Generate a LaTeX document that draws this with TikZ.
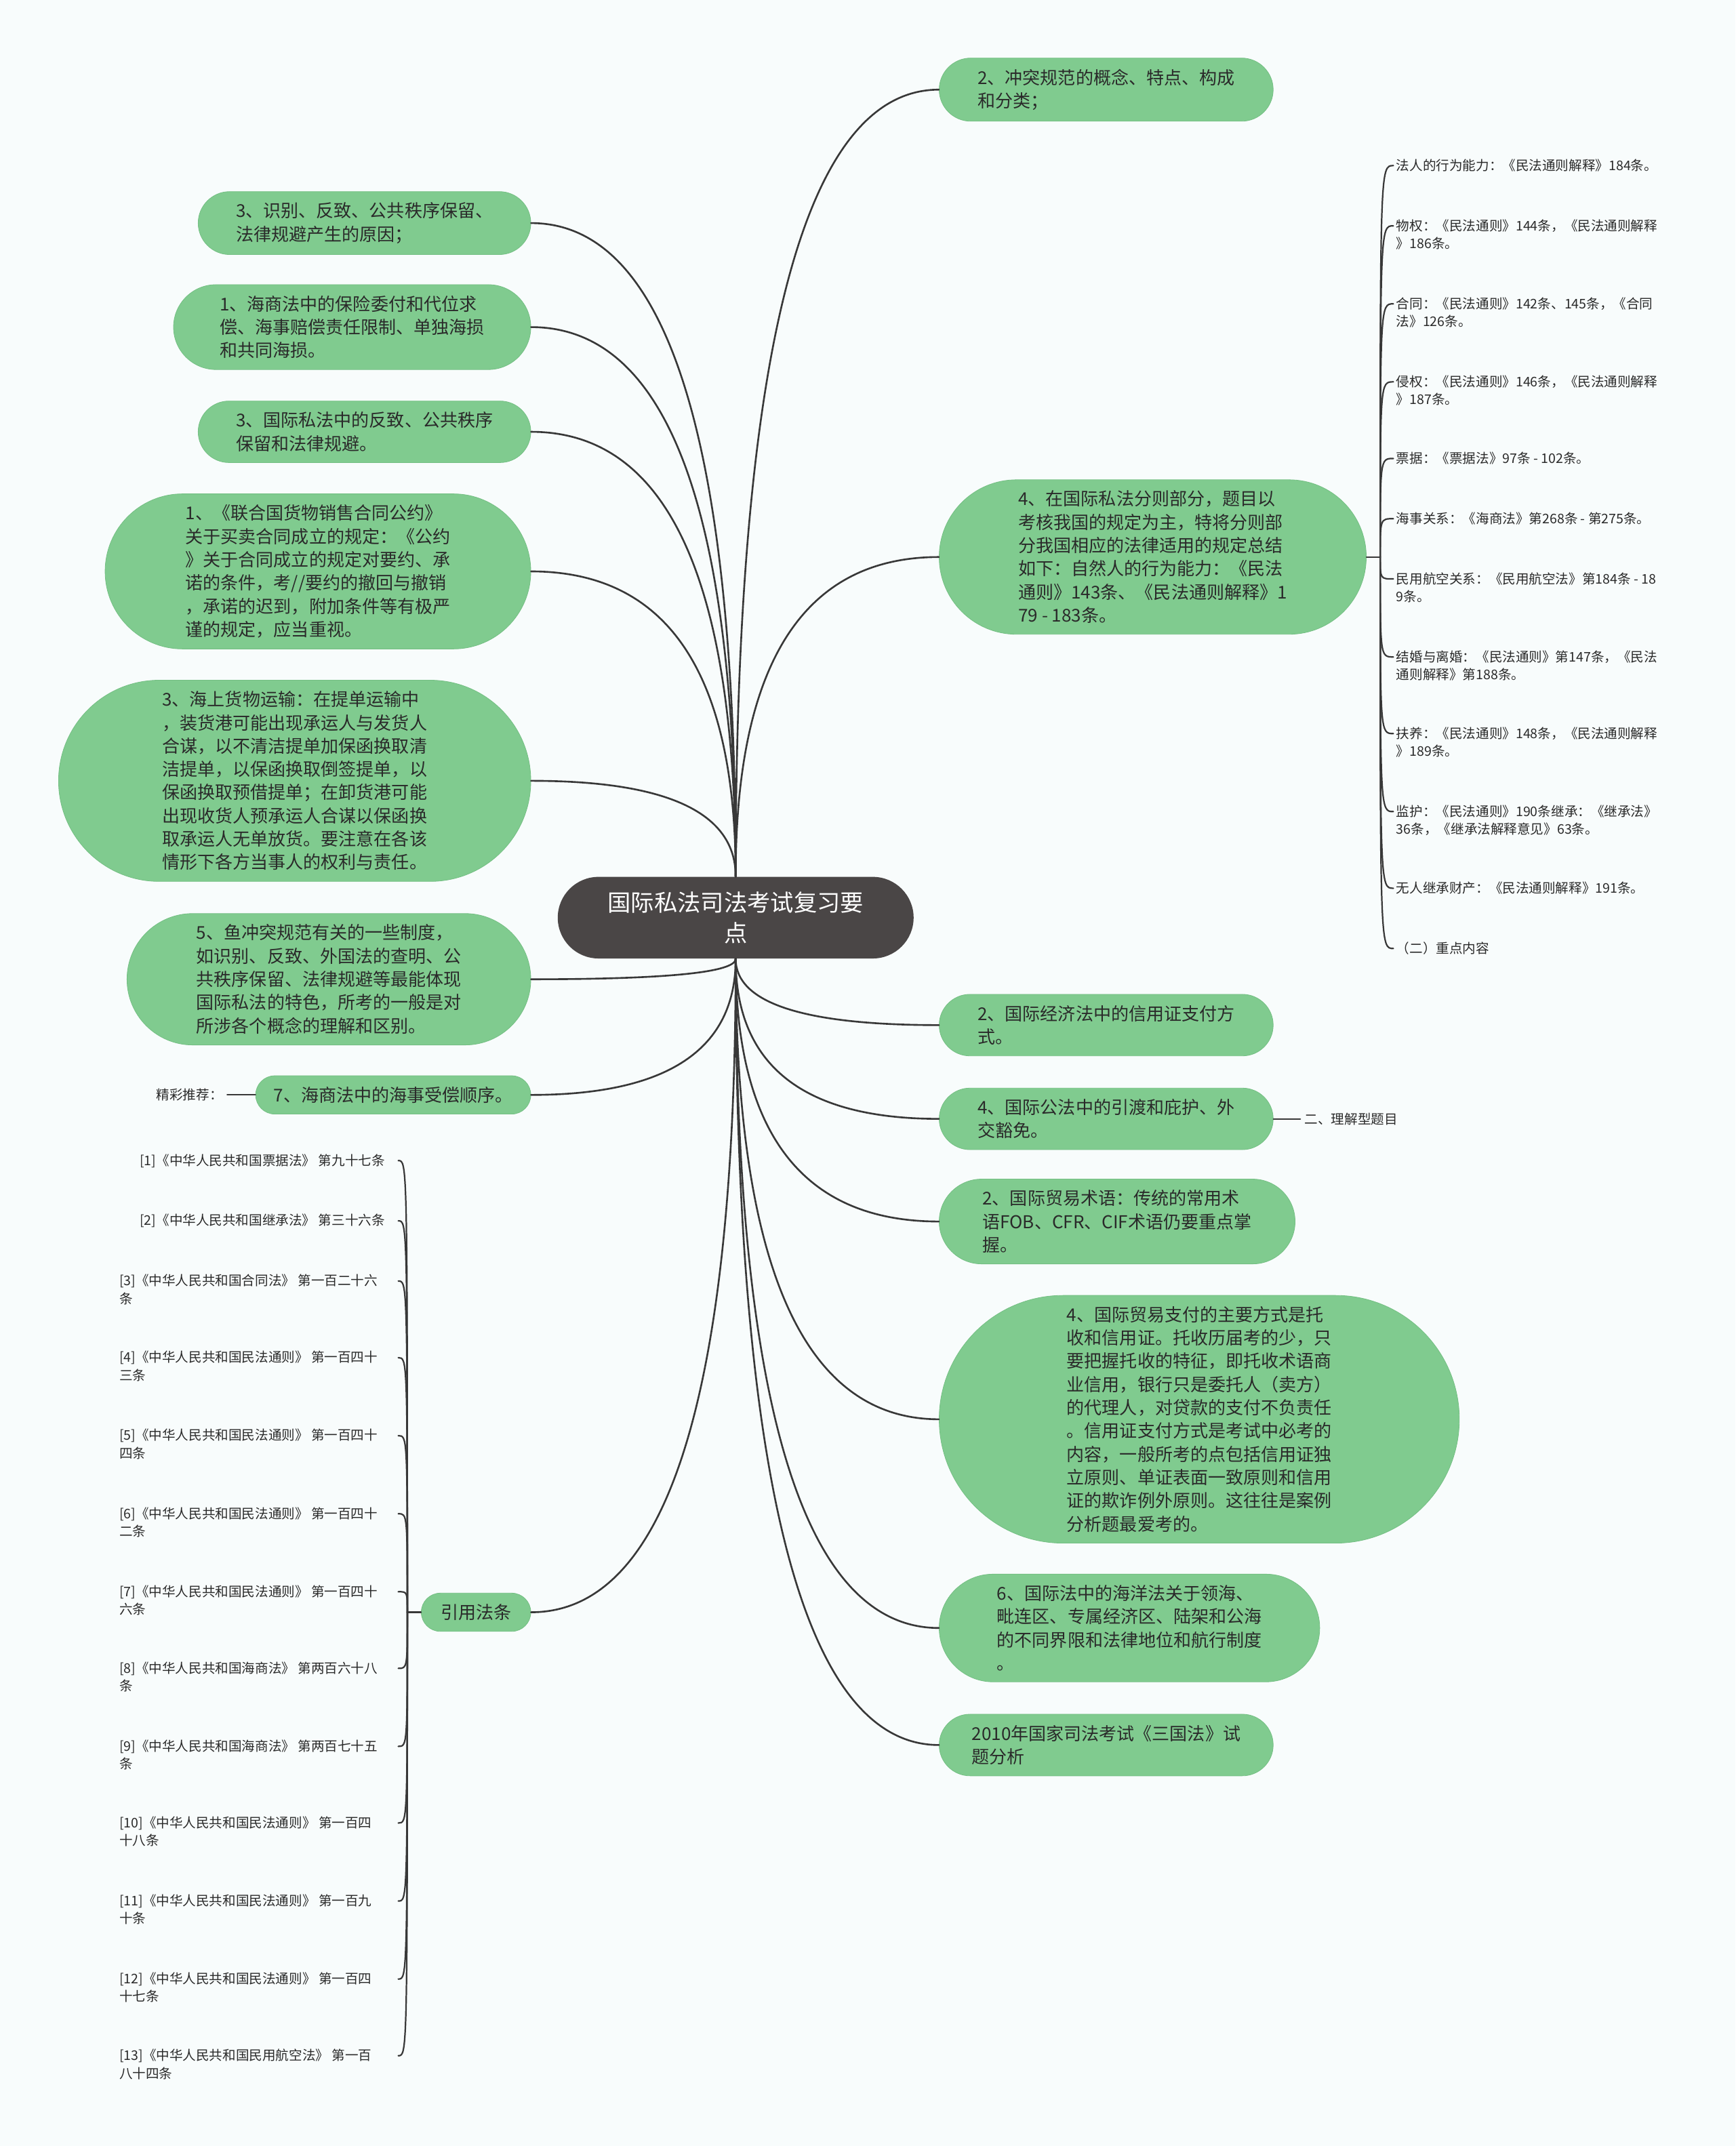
\documentclass[tikz,border=0pt]{standalone}
\usepackage{fontspec}
\setmainfont{Noto Sans CJK SC}
\usetikzlibrary{shapes.misc,calc}
\definecolor{Bfill}{HTML}{F8FCFC}
\definecolor{Gfill}{HTML}{80CB8F}
\definecolor{Gline}{HTML}{74BF83}
\definecolor{Cfill}{HTML}{4A4646}
\definecolor{Link}{HTML}{383838}
\definecolor{Ink}{HTML}{2A2A2A}

\begin{document}
\begin{tikzpicture}[x=1pt,y=-1pt,line join=round,line cap=round,
  topic/.style={rounded rectangle,fill=Gfill,draw=Gline,line width=0.4pt,
    inner xsep=1pt,inner ysep=8pt,align=left,text=Ink,minimum width=#1,
    font=\fontsize{12.9}{17}\selectfont},
  corebox/.style={rounded rectangle,fill=Cfill,inner xsep=5pt,inner ysep=11pt,
    minimum width=270pt,align=center,text=white,font=\fontsize{17}{22}\selectfont},
  leaf/.style={inner sep=0pt,align=left,text=Ink,font=\fontsize{9.7}{13}\selectfont},
  link/.style={Link,line width=1.3pt},
  twig/.style={Link,line width=1.1pt}]
\useasboundingbox (0,0) rectangle (1268,1568);
\fill[Bfill] (0,0) rectangle (1268,1568);

% ---- centre ----
\node[corebox] (core) at (537.5,670.5) {国际私法司法考试复习要\\点};

% ---- right side ----
\node[topic=246pt,anchor=west] (r1) at (686,65.5) {2、冲突规范的概念、特点、构成\\和分类；};
\node[topic=314pt,anchor=west] (r2) at (686,407) {4、在国际私法分则部分，题目以\\考核我国的规定为主，特将分则部\\分我国相应的法律适用的规定总结\\如下：自然人的行为能力：《民法\\通则》143条、《民法通则解释》1\\79 - 183条。};
\node[topic=246pt,anchor=west] (r3) at (686,749) {2、国际经济法中的信用证支付方\\式。};
\node[topic=246pt,anchor=west] (r4) at (686,817.5) {4、国际公法中的引渡和庇护、外\\交豁免。};
\node[topic=262pt,anchor=west] (r5) at (686,892.5) {2、国际贸易术语：传统的常用术\\语FOB、CFR、CIF术语仍要重点掌\\握。};
\node[topic=382pt,anchor=west] (r6) at (686,1037) {4、国际贸易支付的主要方式是托\\收和信用证。托收历届考的少，只\\要把握托收的特征，即托收术语商\\业信用，银行只是委托人（卖方）\\的代理人，对贷款的支付不负责任\\。信用证支付方式是考试中必考的\\内容，一般所考的点包括信用证独\\立原则、单证表面一致原则和信用\\证的欺诈例外原则。这往往是案例\\分析题最爱考的。};
\node[topic=280pt,anchor=west] (r7) at (686,1189.5) {6、国际法中的海洋法关于领海、\\毗连区、专属经济区、陆架和公海\\的不同界限和法律地位和航行制度\\。};
\node[topic=246pt,anchor=west] (r8) at (686,1275) {2010年国家司法考试《三国法》试\\题分析};

% ---- left side ----
\node[topic=245pt,anchor=east] (l1) at (388,163) {3、识别、反致、公共秩序保留、\\法律规避产生的原因；};
\node[topic=263pt,anchor=east] (l2) at (388,239) {1、海商法中的保险委付和代位求\\偿、海事赔偿责任限制、单独海损\\和共同海损。};
\node[topic=245pt,anchor=east] (l3) at (388,315.5) {3、国际私法中的反致、公共秩序\\保留和法律规避。};
\node[topic=313pt,anchor=east] (l4) at (388,417.5) {1、《联合国货物销售合同公约》\\关于买卖合同成立的规定：《公约\\》关于合同成立的规定对要约、承\\诺的条件，考//要约的撤回与撤销\\，承诺的迟到，附加条件等有极严\\谨的规定，应当重视。};
\node[topic=347pt,anchor=east] (l5) at (388,570.5) {3、海上货物运输：在提单运输中\\，装货港可能出现承运人与发货人\\合谋，以不清洁提单加保函换取清\\洁提单，以保函换取倒签提单，以\\保函换取预借提单；在卸货港可能\\出现收货人预承运人合谋以保函换\\取承运人无单放货。要注意在各该\\情形下各方当事人的权利与责任。};
\node[topic=297pt,anchor=east] (l6) at (388,715.5) {5、鱼冲突规范有关的一些制度，\\如识别、反致、外国法的查明、公\\共秩序保留、法律规避等最能体现\\国际私法的特色，所考的一般是对\\所涉各个概念的理解和区别。};
\node[topic=203pt,anchor=east] (l7) at (388,800) {7、海商法中的海事受偿顺序。};
\node[topic=82pt,anchor=east] (l8) at (388,1178) {引用法条};

% ---- branches from the centre ----
\foreach \n/\a/\s in {r1/north/west, r2/north/west, r3/south/west, r4/south/west,
                      r5/south/west, r6/south/west, r7/south/west, r8/south/west,
                      l1/north/east, l2/north/east, l3/north/east, l4/north/east,
                      l5/north/east, l6/south/east, l7/south/east, l8/south/east}
  \draw[link] (core.\a) .. controls ($(core.\a)!0.667!(core.\a |- \n.\s)$)
    and ($(\n.\s)!0.667!(core.\a |- \n.\s)$) .. (\n.\s);

% ---- small leaves ----
\node[leaf,anchor=east] (tipl) at (163,800) {精彩推荐：};
\draw[twig,shorten >=3pt] (l7.west) -- (tipl.east);
\node[leaf,anchor=west] (tipr) at (953,817.5) {二、理解型题目};
\draw[twig,shorten >=3pt] (r4.east) -- (tipr.west);

% ---- the rules under item 4 ----
\coordinate (j2) at ($(r2.east)+(10,0)$);
\draw[twig] (r2.east) -- (j2);
\foreach \y/\t [count=\i] in {121/{法人的行为能力：《民法通则解释》184条。},
    165/{物权：《民法通则》144条，《民法通则解释\\》186条。},
    222/{合同：《民法通则》142条、145条，《合同\\法》126条。},
    279/{侵权：《民法通则》146条，《民法通则解释\\》187条。},
    335/{票据：《票据法》97条 - 102条。},
    379/{海事关系：《海商法》第268条 - 第275条。},
    423/{民用航空关系：《民用航空法》第184条 - 18\\9条。},
    480/{结婚与离婚：《民法通则》第147条，《民法\\通则解释》第188条。},
    536/{扶养：《民法通则》148条，《民法通则解释\\》189条。},
    593/{监护：《民法通则》190条继承：《继承法》\\36条，《继承法解释意见》63条。},
    649/{无人继承财产：《民法通则解释》191条。},
    693/{（二）重点内容}}{
  \node[leaf,anchor=north west] (s\i) at (1020,\y-5) {\t};
  \coordinate (h\i) at (1018,\y);
  \draw[twig] (j2) .. controls (j2 |- h\i) .. (h\i);}

% ---- cited articles ----
\coordinate (j8) at ($(l8.west)+(-10,0)$);
\draw[twig] (l8.west) -- (j8);
\foreach \x/\y/\t [count=\i] in {102/848/{[1]《中华人民共和国票据法》 第九十七条},
    102/892/{[2]《中华人民共和国继承法》 第三十六条},
    87/936/{[3]《中华人民共和国合同法》 第一百二十六\\条},
    87/992/{[4]《中华人民共和国民法通则》 第一百四十\\三条},
    87/1049/{[5]《中华人民共和国民法通则》 第一百四十\\四条},
    87/1106/{[6]《中华人民共和国民法通则》 第一百四十\\二条},
    87/1163/{[7]《中华人民共和国民法通则》 第一百四十\\六条},
    87/1219/{[8]《中华人民共和国海商法》 第两百六十八\\条},
    87/1276/{[9]《中华人民共和国海商法》 第两百七十五\\条},
    87/1332/{[10]《中华人民共和国民法通则》 第一百四\\十八条},
    87/1389/{[11]《中华人民共和国民法通则》 第一百九\\十条},
    87/1446/{[12]《中华人民共和国民法通则》 第一百四\\十七条},
    87/1502/{[13]《中华人民共和国民用航空法》 第一百\\八十四条}}{
  \node[leaf,anchor=north west] (q\i) at (\x,\y-5) {\t};
  \coordinate (g\i) at (291,\y);
  \draw[twig] (j8) .. controls (j8 |- g\i) .. (g\i);}
\end{tikzpicture}
\end{document}
